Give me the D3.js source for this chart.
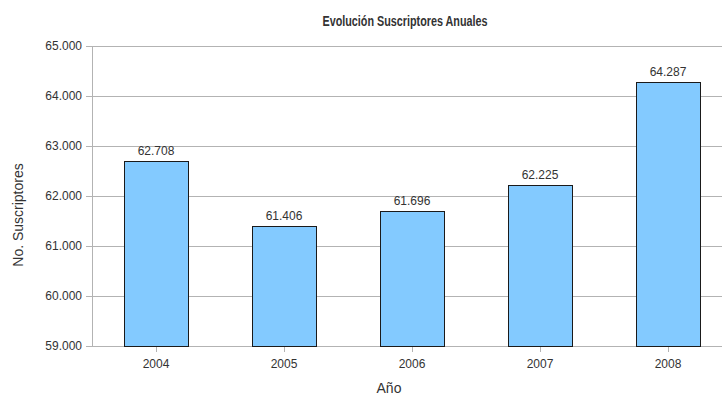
<!DOCTYPE html>
<html>
<head>
<meta charset="utf-8">
<script src="https://cdn.jsdelivr.net/npm/d3@7"></script>
<style>
  body { margin: 0; background: #fff; overflow: hidden; }
  text { font-family: "Liberation Sans", Arial, sans-serif; fill: #333; }
</style>
</head>
<body>
<script>
// chart data
var years = ['2004', '2005', '2006', '2007', '2008'];
var subscribers = [62708, 61406, 61696, 62225, 64287];
var yTicks = [59000, 60000, 61000, 62000, 63000, 64000, 65000];

var w = 722, h = 397;
var margin = {top: 46, left: 92, bottom: 51};
var plotRight = 732; // plot runs past the visible edge
var height = h - margin.top - margin.bottom;

var fmt = function(v) { return d3.format(',')(v).replace(/,/g, '.'); };

var svg = d3.select('body').append('svg')
    .attr('width', w)
    .attr('height', h);

var x = d3.scaleBand()
    .domain(years)
    .range([margin.left, plotRight])
    .paddingInner(0.5)
    .paddingOuter(0.25);

var y = d3.scaleLinear()
    .domain([59000, 65000])
    .range([margin.top + height, margin.top]);

// grid lines
svg.append('g').selectAll('line')
    .data(yTicks)
  .enter().append('line')
    .attr('x1', margin.left - 6)
    .attr('x2', plotRight)
    .attr('y1', function(d) { return Math.round(y(d)) + 0.5; })
    .attr('y2', function(d) { return Math.round(y(d)) + 0.5; })
    .attr('stroke', '#b3b3b3')
    .attr('stroke-width', 1);

// y axis line
svg.append('line')
    .attr('x1', margin.left + 0.5).attr('x2', margin.left + 0.5)
    .attr('y1', margin.top).attr('y2', margin.top + height)
    .attr('stroke', '#b3b3b3');

// y tick labels
svg.append('g').selectAll('text')
    .data(yTicks)
  .enter().append('text')
    .attr('x', margin.left - 10)
    .attr('y', function(d) { return y(d); })
    .attr('dy', '0.35em')
    .attr('text-anchor', 'end')
    .style('font-size', '12px')
    .text(fmt);

// x ticks
svg.append('g').selectAll('line')
    .data(years)
  .enter().append('line')
    .attr('x1', function(d) { return Math.round(x(d) + x.bandwidth() / 2) + 0.5; })
    .attr('x2', function(d) { return Math.round(x(d) + x.bandwidth() / 2) + 0.5; })
    .attr('y1', margin.top + height)
    .attr('y2', margin.top + height + 6)
    .attr('stroke', '#b3b3b3');

svg.append('g').selectAll('text')
    .data(years)
  .enter().append('text')
    .attr('x', function(d) { return x(d) + x.bandwidth() / 2; })
    .attr('y', margin.top + height + 22)
    .attr('text-anchor', 'middle')
    .style('font-size', '12px')
    .text(function(d) { return d; });

// bars
svg.append('g').selectAll('rect')
    .data(subscribers)
  .enter().append('rect')
    .attr('x', function(d, i) { return Math.round(x(years[i])) + 0.5; })
    .attr('y', function(d) { return Math.round(y(d)) + 0.5; })
    .attr('width', Math.round(x.bandwidth()))
    .attr('height', function(d) { return Math.round(y(59000)) - Math.round(y(d)); })
    .attr('fill', '#83caff')
    .attr('stroke', '#1a1a1a')
    .attr('stroke-width', 1);

// value labels
svg.append('g').selectAll('text')
    .data(subscribers)
  .enter().append('text')
    .attr('x', function(d, i) { return x(years[i]) + x.bandwidth() / 2; })
    .attr('y', function(d) { return y(d) - 6; })
    .attr('text-anchor', 'middle')
    .style('font-size', '12px')
    .text(fmt);

// title and axis labels
svg.append('text')
    .attr('x', 405).attr('y', 26)
    .attr('text-anchor', 'middle')
    .attr('textLength', 165)
    .attr('lengthAdjust', 'spacingAndGlyphs')
    .style('font-size', '14px')
    .style('font-weight', 'bold')
    .text('Evolución Suscriptores Anuales');

svg.append('text')
    .attr('transform', 'translate(23,215) rotate(-90)')
    .attr('text-anchor', 'middle')
    .style('font-size', '14px')
    .text('No. Suscriptores');

svg.append('text')
    .attr('x', 389).attr('y', 393)
    .attr('text-anchor', 'middle')
    .style('font-size', '14px')
    .text('Año');
</script>
</body>
</html>
